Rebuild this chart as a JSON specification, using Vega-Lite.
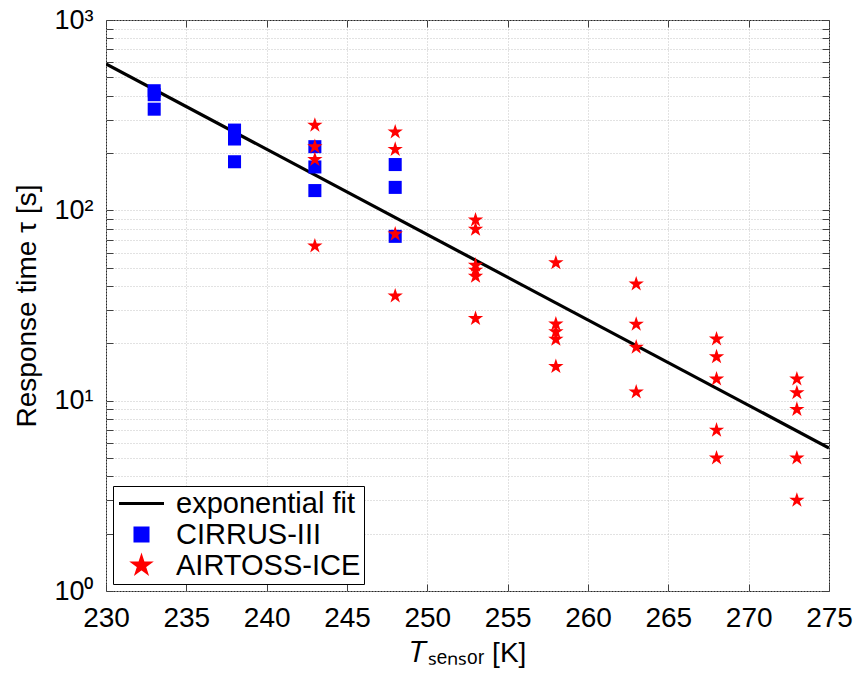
{
  "$schema": "https://vega.github.io/schema/vega-lite/v6.json",
  "width": 723,
  "height": 571,
  "autosize": {"type": "none"},
  "padding": {"left": 106, "top": 20, "right": 28, "bottom": 90},
  "background": "white",
  "config": {
    "font": "Liberation Sans",
    "view": {"stroke": "#262626", "strokeWidth": 1},
    "axis": {
      "domain": false,
      "labelFont": "Liberation Sans",
      "labelFontSize": 27,
      "labelColor": "black",
      "labelFlush": false,
      "titleFont": "Liberation Sans",
      "titleFontSize": 28,
      "titleFontWeight": "normal",
      "titleColor": "black",
      "gridColor": "#c4c4c4",
      "gridDash": [1, 2],
      "gridWidth": 1,
      "tickColor": "#404040",
      "tickSize": -7
    },
    "legend": {
      "labelFont": "Liberation Sans",
      "labelFontSize": 29,
      "labelColor": "black",
      "labelLimit": 0
    }
  },
  "datasets": {
    "fit": [
      {"T": 230, "tau": 588, "series": "exponential fit"},
      {"T": 275, "tau": 5.64, "series": "exponential fit"}
    ],
    "cirrus": [
      {"T": 233, "tau": 425, "series": "CIRRUS-III"},
      {"T": 233, "tau": 405, "series": "CIRRUS-III"},
      {"T": 233, "tau": 340, "series": "CIRRUS-III"},
      {"T": 238, "tau": 264, "series": "CIRRUS-III"},
      {"T": 238, "tau": 237, "series": "CIRRUS-III"},
      {"T": 238, "tau": 180, "series": "CIRRUS-III"},
      {"T": 243, "tau": 216, "series": "CIRRUS-III"},
      {"T": 243, "tau": 169, "series": "CIRRUS-III"},
      {"T": 243, "tau": 127, "series": "CIRRUS-III"},
      {"T": 248, "tau": 174, "series": "CIRRUS-III"},
      {"T": 248, "tau": 132, "series": "CIRRUS-III"},
      {"T": 248, "tau": 73, "series": "CIRRUS-III"}
    ],
    "airtoss": [
      {"T": 243, "tau": 280, "series": "AIRTOSS-ICE"},
      {"T": 243, "tau": 216, "series": "AIRTOSS-ICE"},
      {"T": 243, "tau": 185, "series": "AIRTOSS-ICE"},
      {"T": 243, "tau": 65, "series": "AIRTOSS-ICE"},
      {"T": 248, "tau": 258, "series": "AIRTOSS-ICE"},
      {"T": 248, "tau": 209, "series": "AIRTOSS-ICE"},
      {"T": 248, "tau": 75, "series": "AIRTOSS-ICE"},
      {"T": 248, "tau": 35.5, "series": "AIRTOSS-ICE"},
      {"T": 253, "tau": 89, "series": "AIRTOSS-ICE"},
      {"T": 253, "tau": 79.5, "series": "AIRTOSS-ICE"},
      {"T": 253, "tau": 51.5, "series": "AIRTOSS-ICE"},
      {"T": 253, "tau": 48.5, "series": "AIRTOSS-ICE"},
      {"T": 253, "tau": 45, "series": "AIRTOSS-ICE"},
      {"T": 253, "tau": 27, "series": "AIRTOSS-ICE"},
      {"T": 258, "tau": 53, "series": "AIRTOSS-ICE"},
      {"T": 258, "tau": 25.3, "series": "AIRTOSS-ICE"},
      {"T": 258, "tau": 23, "series": "AIRTOSS-ICE"},
      {"T": 258, "tau": 21, "series": "AIRTOSS-ICE"},
      {"T": 258, "tau": 15.1, "series": "AIRTOSS-ICE"},
      {"T": 263, "tau": 41, "series": "AIRTOSS-ICE"},
      {"T": 263, "tau": 25.2, "series": "AIRTOSS-ICE"},
      {"T": 263, "tau": 19.1, "series": "AIRTOSS-ICE"},
      {"T": 263, "tau": 11.1, "series": "AIRTOSS-ICE"},
      {"T": 268, "tau": 21.1, "series": "AIRTOSS-ICE"},
      {"T": 268, "tau": 17, "series": "AIRTOSS-ICE"},
      {"T": 268, "tau": 13, "series": "AIRTOSS-ICE"},
      {"T": 268, "tau": 7, "series": "AIRTOSS-ICE"},
      {"T": 268, "tau": 5, "series": "AIRTOSS-ICE"},
      {"T": 273, "tau": 13, "series": "AIRTOSS-ICE"},
      {"T": 273, "tau": 11, "series": "AIRTOSS-ICE"},
      {"T": 273, "tau": 9, "series": "AIRTOSS-ICE"},
      {"T": 273, "tau": 5, "series": "AIRTOSS-ICE"},
      {"T": 273, "tau": 3, "series": "AIRTOSS-ICE"}
    ]
  },
  "layer": [
    {
      "data": {"name": "fit"},
      "mark": {"type": "line", "color": "black", "strokeWidth": 3.2, "clip": true},
      "encoding": {
        "x": {
          "field": "T", "type": "quantitative",
          "scale": {"domain": [230, 275], "nice": false, "zero": false},
          "axis": {
            "orient": "bottom",
            "values": [230, 235, 240, 245, 250, 255, 260, 265, 270, 275],
            "grid": true,
            "labelFontSize": 28,
            "labelPadding": 20,
            "title": "𝑇ₛₑₙₛₒᵣ [K]",
            "titlePadding": 7
          }
        },
        "y": {
          "field": "tau", "type": "quantitative",
          "scale": {"type": "log", "domain": [1, 1000], "nice": false},
          "axis": {
            "orient": "left",
            "values": [1, 2, 3, 4, 5, 6, 7, 8, 9, 10, 20, 30, 40, 50, 60, 70, 80, 90, 100, 200, 300, 400, 500, 600, 700, 800, 900, 1000],
            "labelExpr": "datum.value == 1 ? '10⁰' : datum.value == 10 ? '10¹' : datum.value == 100 ? '10²' : datum.value == 1000 ? '10³' : ''",
            "grid": true,
            "labelPadding": 20,
            "title": "Response time τ [s]",
            "titlePadding": 12
          }
        },
        "color": {
          "field": "series", "type": "nominal",
          "scale": {"domain": ["exponential fit", "CIRRUS-III", "AIRTOSS-ICE"], "range": ["black", "#0000ff", "#ff0000"]},
          "legend": {
            "title": null,
            "orient": "bottom-left",
            "offset": 7,
            "strokeColor": "black",
            "fillColor": "white",
            "padding": 3,
            "rowPadding": 1,
            "symbolSize": 2025,
            "symbolOffset": 11,
            "labelOffset": 20,
            "labelExpr": "datum.label + '\u00a0\u00a0'",
            "encode": {
              "symbols": {
                "update": {
                  "fill": {"signal": "datum.value === 'exponential fit' ? 'transparent' : datum.value === 'CIRRUS-III' ? '#0000ff' : '#ff0000'"},
                  "stroke": {"signal": "datum.value === 'exponential fit' ? 'black' : 'transparent'"},
                  "strokeWidth": {"value": 3},
                  "opacity": {"value": 1},
                  "size": {"signal": "datum.value === 'exponential fit' ? 2025 : datum.value === 'CIRRUS-III' ? 170 : 260"}
                }
              }
            }
          }
        },
        "shape": {
          "field": "series", "type": "nominal",
          "scale": {"domain": ["exponential fit", "CIRRUS-III", "AIRTOSS-ICE"], "range": ["stroke", "square", "M0,-1L0.2245,-0.309L0.951,-0.309L0.363,0.118L0.588,0.809L0,0.382L-0.588,0.809L-0.363,0.118L-0.951,-0.309L-0.2245,-0.309Z"]}
        }
      }
    },
    {
      "data": {"name": "cirrus"},
      "mark": {"type": "point", "filled": true, "size": 170, "opacity": 1},
      "encoding": {
        "x": {"field": "T", "type": "quantitative", "scale": {"domain": [230, 275], "nice": false, "zero": false}, "axis": null},
        "y": {"field": "tau", "type": "quantitative", "scale": {"type": "log", "domain": [1, 1000], "nice": false}, "axis": null},
        "color": {"field": "series", "type": "nominal"},
        "shape": {"field": "series", "type": "nominal"}
      }
    },
    {
      "data": {"name": "airtoss"},
      "mark": {"type": "point", "filled": true, "size": 260, "opacity": 1},
      "encoding": {
        "x": {"field": "T", "type": "quantitative", "scale": {"domain": [230, 275], "nice": false, "zero": false}, "axis": null},
        "y": {"field": "tau", "type": "quantitative", "scale": {"type": "log", "domain": [1, 1000], "nice": false}, "axis": null},
        "color": {"field": "series", "type": "nominal"},
        "shape": {"field": "series", "type": "nominal"}
      }
    },
    {
      "data": {"name": "fit"},
      "mark": {"type": "line", "strokeOpacity": 0},
      "encoding": {
        "x": {
          "field": "T", "type": "quantitative",
          "scale": {"domain": [230, 275], "nice": false, "zero": false},
          "axis": {"orient": "top", "values": [230, 235, 240, 245, 250, 255, 260, 265, 270, 275], "labels": false, "grid": false, "title": null}
        },
        "y": {
          "field": "tau", "type": "quantitative",
          "scale": {"type": "log", "domain": [1, 1000], "nice": false},
          "axis": {
            "orient": "right",
            "values": [1, 2, 3, 4, 5, 6, 7, 8, 9, 10, 20, 30, 40, 50, 60, 70, 80, 90, 100, 200, 300, 400, 500, 600, 700, 800, 900, 1000],
            "labels": false, "grid": false, "title": null
          }
        }
      }
    }
  ],
  "resolve": {"axis": {"x": "independent", "y": "independent"}}
}
